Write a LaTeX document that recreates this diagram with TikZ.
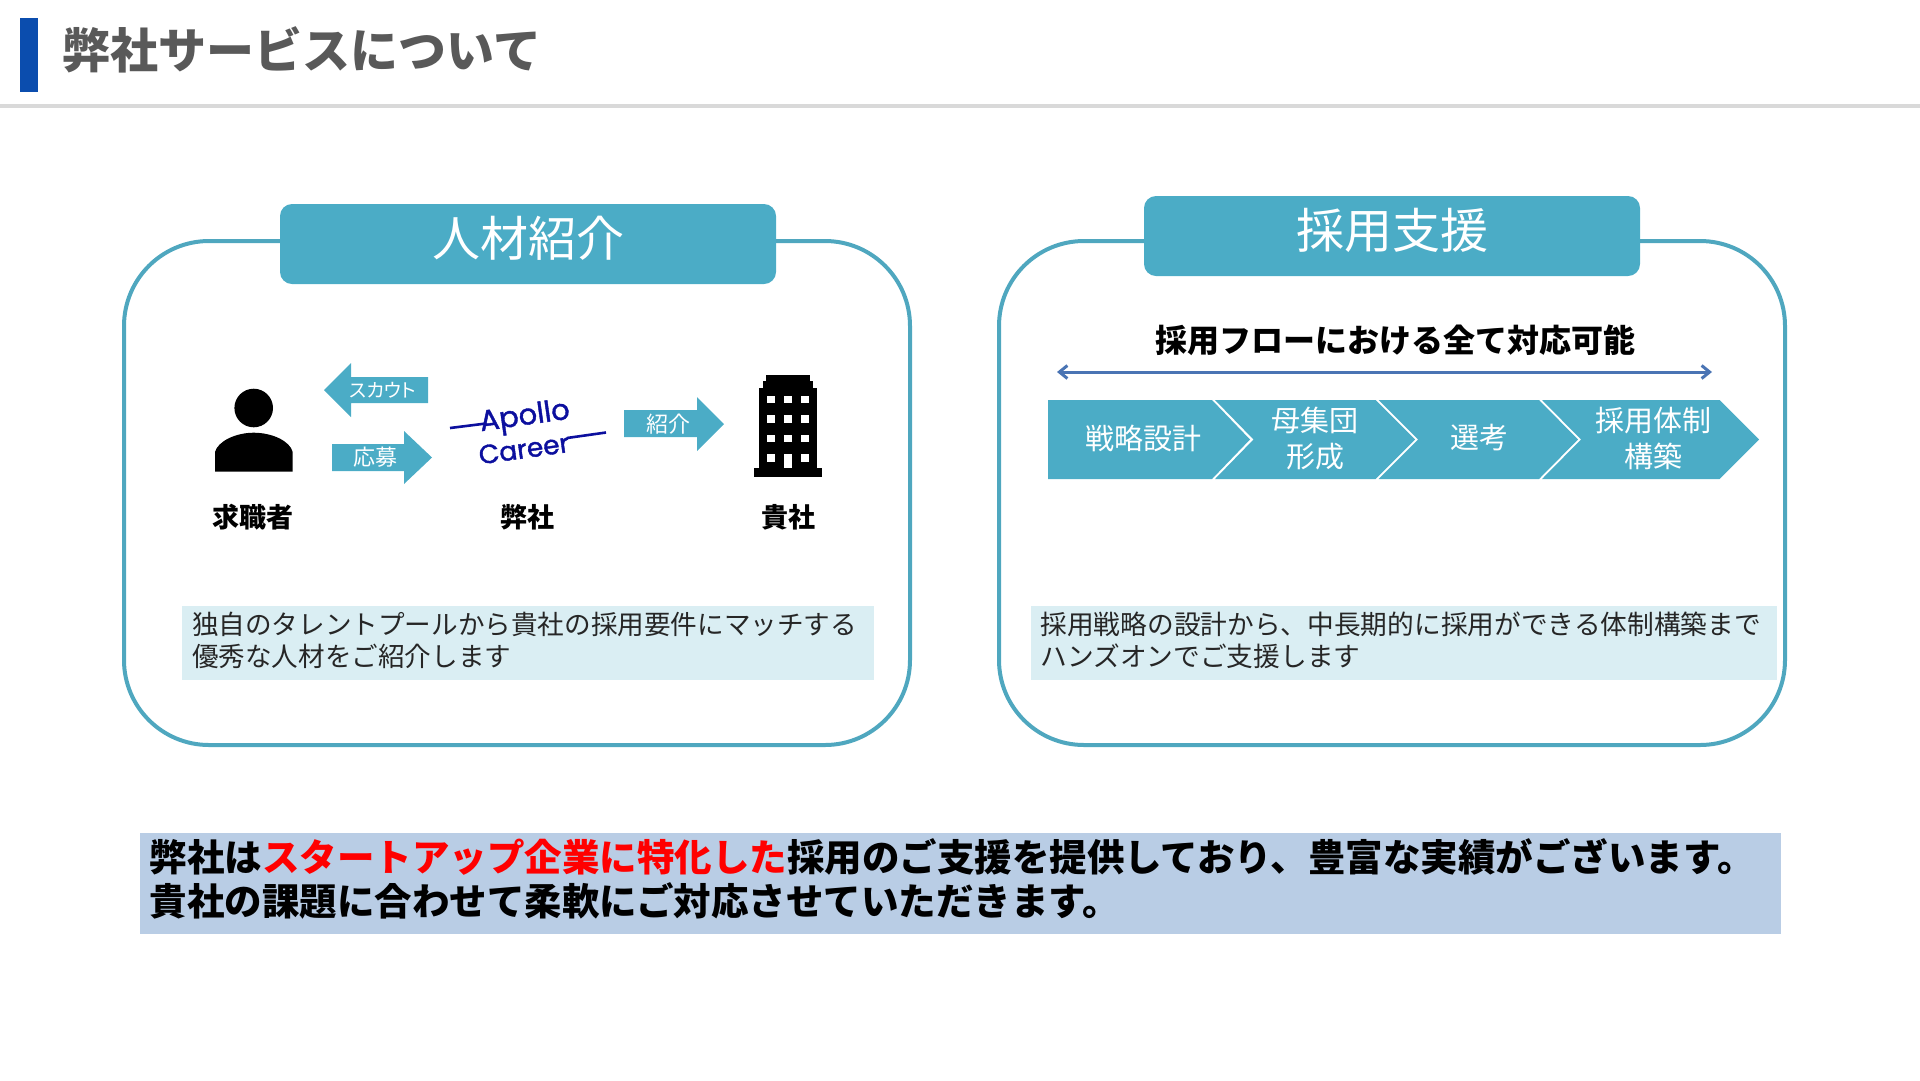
\documentclass[tikz,border=0pt]{standalone}
\usepackage{fontspec}
\setmainfont{Noto Sans CJK JP}
\newfontfamily\paltfont[CharacterWidth=AlternateProportional]{Noto Sans CJK JP}
\newfontfamily\logofont[FakeBold=1.4]{Poppins}
\usetikzlibrary{arrows.meta}
\newcommand{\fs}[1]{\fontsize{#1}{#1}\selectfont}
\definecolor{teal}{HTML}{4BACC6}
\definecolor{tealrule}{HTML}{4FA7BF}
\definecolor{tealpale}{HTML}{DAEEF3}
\definecolor{slate}{HTML}{B9CDE5}
\definecolor{navy}{HTML}{0C0F9E}
\definecolor{bluebar}{HTML}{0B4DAE}
\definecolor{titleink}{HTML}{595959}
\definecolor{rulegrey}{HTML}{D9D9D9}
\definecolor{flowblue}{HTML}{4A74B4}
\definecolor{ink}{HTML}{262626}
\tikzset{
  panel/.style={draw=tealrule,line width=4pt,rounded corners=85pt},
  tabbox/.style={fill=teal,rounded corners=12pt},
  tabtext/.style={text=white,font=\fs{48}},
  arrowtext/.style={text=white,font=\fs{22}},
  steptext/.style={text=white,font=\fontsize{29}{35.5}\selectfont,align=center},
  rolelabel/.style={text=black,font=\bfseries\fs{27}},
  desctext/.style={anchor=west,text=ink,align=left,font=\fontsize{26.6}{32}\selectfont},
  logotext/.style={text=navy,rotate=8,inner sep=0pt,font=\logofont\fs{29}},
  logoline/.style={draw=navy,line width=2.6pt},
}
\begin{document}
\begin{tikzpicture}[x=1pt,y=-1pt]
\useasboundingbox (0,0) rectangle (1920,1080);
% header
\fill[bluebar] (20,18) rectangle (38,92);
\fill[rulegrey] (0,104) rectangle (1920,108);
\node[anchor=west,text=titleink,font=\bfseries\fs{48}] (title) at (59,50) {弊社サービスについて};
% left panel
\draw[panel] (124,241) rectangle (910,745);
\fill[tabbox] (280,204) rectangle (776,284);
\node[tabtext] (jinzai) at (528.5,238) {人材紹介};
% person
\fill[black] (253.7,408) circle (19.3);
\fill[black] (215,471.7) -- (215,452) .. controls (218,441) and (236,432.7) .. (253.7,432.7) .. controls (272,432.7) and (290,441) .. (292.7,452) -- (292.7,471.7) -- cycle;
% arrows
\fill[teal] (428,377) -- (351,377) -- (351,363) -- (324,390) -- (351,417) -- (351,403) -- (428,403) -- cycle;
\node[text=white,font=\paltfont\fs{19}] (scout) at (383,390) {スカウト};
\fill[teal] (332,444) -- (404,444) -- (404,431) -- (432,457.5) -- (404,484) -- (404,471) -- (332,471) -- cycle;
\node[arrowtext] (oubo) at (375,457.5) {応募};
\fill[teal] (624,410) -- (697,410) -- (697,397) -- (724,424) -- (697,451) -- (697,437) -- (624,437) -- cycle;
\node[arrowtext] (shoukai) at (668,424) {紹介};
% logo
\node[logotext] (apollo) at (525,418) {Apollo};
\node[logotext,font=\logofont\fs{26.5}] (career) at (524,449) {Career};
\coordinate (apolloa) at (450,428);
\coordinate (apollob) at (486,423.5);
\coordinate (careera) at (567,438);
\coordinate (careerb) at (606,432.5);
\draw[logoline] (apolloa) -- (apollob);
\draw[logoline] (careera) -- (careerb);
% building
\fill[black] (754,468) rectangle (821.7,477);
\fill[black] (759,388) rectangle (816.7,468);
\fill[black] (762.7,381) rectangle (813,388);
\fill[black] (766,375) rectangle (810,381);
\fill[white] (767,395.5) rectangle (774.5,403);
\fill[white] (784,395.5) rectangle (791.5,403);
\fill[white] (801,395.5) rectangle (808.5,403);
\fill[white] (767,415) rectangle (774.5,422.5);
\fill[white] (784,415) rectangle (791.5,422.5);
\fill[white] (801,415) rectangle (808.5,422.5);
\fill[white] (767,434.5) rectangle (774.5,442);
\fill[white] (784,434.5) rectangle (791.5,442);
\fill[white] (801,434.5) rectangle (808.5,442);
\fill[white] (767,454) rectangle (774.5,461.5);
\fill[white] (784,454) rectangle (791.5,468);
\fill[white] (801,454) rectangle (808.5,461.5);
% role labels
\node[rolelabel] (seeker) at (252.6,517.5) {求職者};
\node[rolelabel] (heisha) at (527,517.5) {弊社};
\node[rolelabel] (kisha) at (788,517.5) {貴社};
% left description
\fill[tealpale] (182,606) rectangle (874,680);
\node[desctext] (descl) at (188.5,640) {独自のタレントプールから貴社の採用要件にマッチする\\優秀な人材をご紹介します};
% right panel
\draw[panel] (999,241) rectangle (1785,745);
\fill[tabbox] (1144,196) rectangle (1640,276);
\node[tabtext] (saiyou) at (1392,230) {採用支援};
\node[text=black,font=\bfseries\fs{32}] (flowhead) at (1395,340) {採用フローにおける全て対応可能};
\coordinate (flowl) at (1057,372);
\coordinate (flowr) at (1712,372);
\draw[flowblue,line width=3pt,{Straight Barb[length=8pt,width=13pt]}-{Straight Barb[length=8pt,width=13pt]}] (flowl) -- (flowr);
% chevrons
\fill[teal] (1048,400) -- (1212,400) -- (1250,439.5) -- (1212,479) -- (1048,479) -- cycle;
\fill[teal] (1215,400) -- (1375.5,400) -- (1415,439.5) -- (1375.5,479) -- (1215,479) -- (1253.5,439.5) -- cycle;
\fill[teal] (1378.5,400) -- (1539,400) -- (1578,439.5) -- (1539,479) -- (1378.5,479) -- (1418,439.5) -- cycle;
\fill[teal] (1542,400) -- (1719.6,400) -- (1759,439.5) -- (1719.6,479) -- (1542,479) -- (1581,439.5) -- cycle;
\node[steptext] (senryaku) at (1143,438) {戦略設計};
\node[steptext] (boshuudan) at (1315,438.5) {母集団\\形成};
\node[steptext] (senkou) at (1479,438) {選考};
\node[steptext] (taisei) at (1653,438.5) {採用体制\\構築};
% right description
\fill[tealpale] (1030.5,606) rectangle (1776.5,680);
\node[desctext,font=\fontsize{26.7}{32}\selectfont] (descr) at (1037,640) {採用戦略の設計から、中長期的に採用ができる体制構築まで\\ハンズオンでご支援します};
% summary
\fill[slate] (140,833) rectangle (1780.5,934);
\node[anchor=west,align=left,text=black,font=\bfseries\fontsize{37.5}{44}\selectfont] (summary) at (146,879) {弊社は\textcolor{red}{スタートアップ企業に特化した}採用のご支援を提供しており、豊富な実績がございます。\\貴社の課題に合わせて柔軟にご対応させていただきます。};
\end{tikzpicture}
\end{document}
